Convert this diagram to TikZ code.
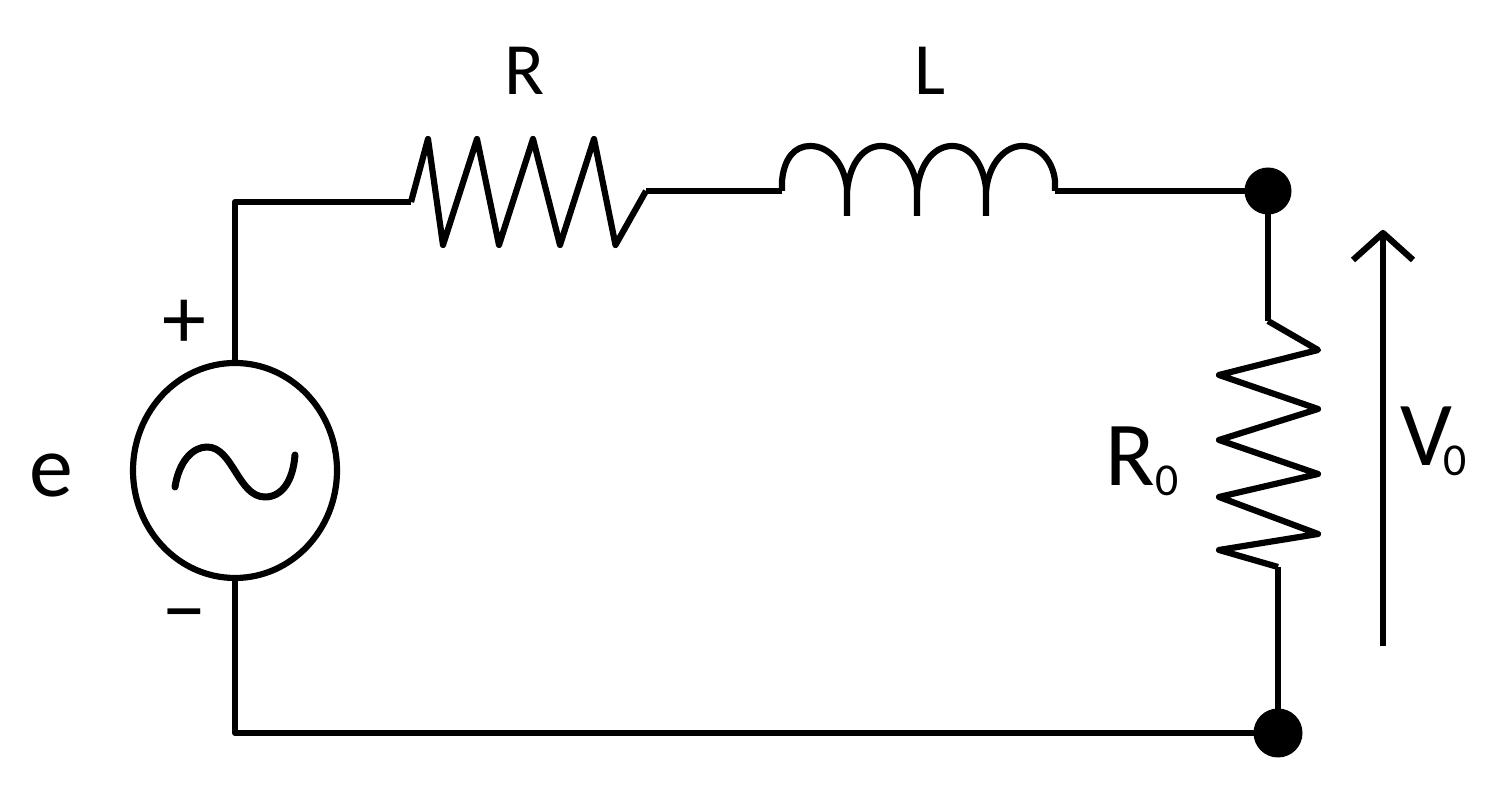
\documentclass[tikz,border=0pt]{standalone}
\usepackage{fontspec}
\setmainfont{Carlito}
\usetikzlibrary{shapes.geometric, positioning}
\tikzset{
  wire/.style={line width=0.062cm, line join=round, black},
  term/.style={circle, fill=black, inner sep=0pt, minimum size=0.47cm},
  lab/.style={inner sep=0pt, font=\fontsize{21}{21}\selectfont},
  biglab/.style={inner sep=0pt, font=\fontsize{26}{26}\selectfont},
  signlab/.style={inner sep=0pt, font=\fontsize{25}{25}\selectfont}
}
\newcommand{\lowzero}{\raisebox{-2.8pt}{\fontsize{13}{13}\selectfont 0}}
\begin{document}
\begin{tikzpicture}
\useasboundingbox (0,0) rectangle (14.9,7.86);
\node[ellipse, draw, wire, inner sep=0pt, minimum width=2.04cm, minimum height=2.15cm] (src) at (2.35,3.155) {};
\node[term] (dottop) at (12.68,5.95) {};
\node[term, minimum size=0.49cm] (dotbot) at (12.78,0.53) {};
\coordinate (rstart) at (4.11,5.84);
\coordinate (rend) at (6.46,5.95);
\coordinate (lstart) at (7.82,5.95);
\coordinate (lend) at (10.55,5.95);
\coordinate (rotop) at (12.68,4.65);
\coordinate (robot) at (12.78,2.19);
\coordinate (vfoot) at (13.83,1.40);
\coordinate (vtip) at (13.83,5.53);
% wires
\draw[wire] (src.north) |- (rstart);
\draw[wire] (src.south) |- (dotbot.center);
\draw[wire] (rend) -- (lstart);
\draw[wire] (lend) -- (dottop.center);
\draw[wire] (dottop.center) -- (rotop);
\draw[wire] (robot) -- (dotbot.center);
% series resistor
\draw[wire] (rstart) -- (4.28,6.47) -- (4.43,5.41) -- (4.77,6.47) -- (4.99,5.41) -- (5.33,6.47) -- (5.60,5.41) -- (5.94,6.47) -- (6.155,5.41) -- (rend);
% coil
\draw[wire] (lstart) -- (7.82,6.05) .. controls (7.84,6.28) and (7.95,6.40) .. (8.10,6.40) .. controls (8.30,6.40) and (8.44,6.22) .. (8.47,5.98) -- (8.47,5.70);
\foreach \a/\t/\b in {8.47/8.81/9.17, 9.17/9.52/9.86}
  \draw[wire] (\a,5.95) .. controls (\a+0.03,6.25) and (\t-0.16,6.40) .. (\t,6.40) .. controls (\t+0.19,6.40) and (\b-0.03,6.22) .. (\b,5.98) -- (\b,5.70);
\draw[wire] (9.86,5.95) .. controls (9.89,6.25) and (10.07,6.40) .. (10.22,6.40) .. controls (10.40,6.40) and (10.53,6.25) .. (10.55,6.05) -- (lend);
% load resistor
\draw[wire] (rotop) -- (13.18,4.36) -- (12.19,4.11) -- (13.18,3.77) -- (12.19,3.46) -- (13.18,3.12) -- (12.19,2.89) -- (13.18,2.52) -- (12.19,2.36) -- (robot);
% tilde
\draw[wire, line width=0.07cm, line cap=round] (1.75,2.99) .. controls (1.79,3.25) and (1.93,3.39) .. (2.07,3.39) .. controls (2.33,3.39) and (2.38,2.89) .. (2.65,2.89) .. controls (2.82,2.89) and (2.93,3.05) .. (2.95,3.31);
% output arrow
\draw[wire] (vfoot) -- (vtip);
\draw[wire] (13.53,5.26) -- (vtip) -- (14.13,5.26);
% labels
\node[lab, anchor=base] (rlab) at (5.245,6.91) {R};
\node[lab, anchor=base] (llab) at (9.30,6.91) {L};
\node[biglab, anchor=base west] (rolab) at (11.05,3.00) {R\lowzero};
\node[biglab, anchor=base west] (volab) at (14.00,3.20) {V\kern-2.5pt\lowzero};
\node[biglab, anchor=base] (elab) at (0.515,2.89) {\fontsize{25}{25}\selectfont e};
\node[signlab] (plus) at (1.845,4.62) {+};
\node[signlab] (minus) at (1.845,1.62) {−};
\end{tikzpicture}
\end{document}
